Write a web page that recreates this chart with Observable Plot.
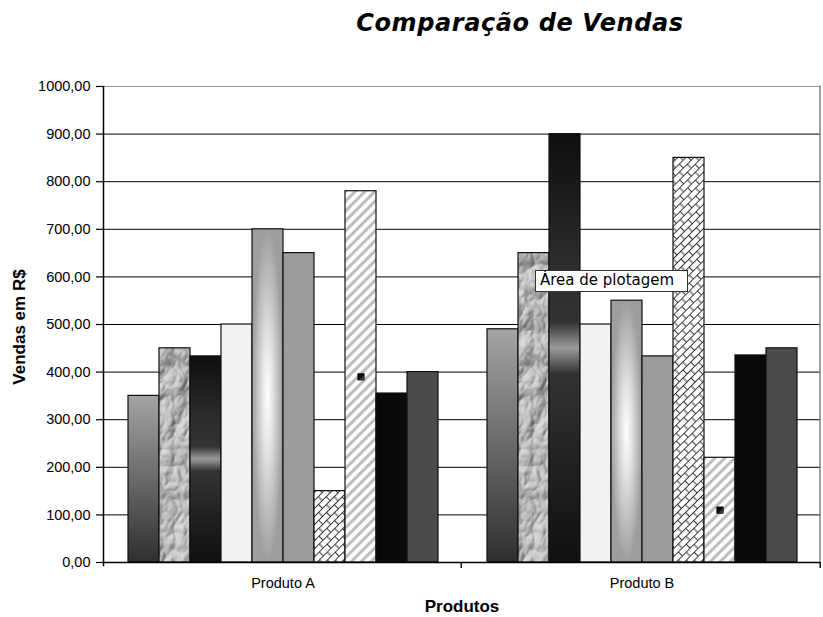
<!DOCTYPE html>
<html><head><meta charset="utf-8">
<script src="https://cdn.jsdelivr.net/npm/d3@7"></script>
<script src="https://cdn.jsdelivr.net/npm/@observablehq/plot@0.6"></script>
<style>
body{margin:0;background:#fff;}
#wrap{position:relative;width:823px;height:617px;overflow:hidden;background:#fff;}
#wrap svg{position:absolute;left:0;top:0;}
.ov{position:absolute;white-space:nowrap;color:#000;}
#title{left:270px;width:500px;top:11px;text-align:center;font:italic bold 24px "DejaVu Sans",sans-serif;line-height:24px;letter-spacing:0.6px;}
#ylab{left:-80px;width:200px;top:317px;height:20px;line-height:20px;text-align:center;font:bold 17px "Liberation Sans",Arial,sans-serif;transform:rotate(-90deg);}
#xlab{left:362px;width:200px;top:597px;line-height:20px;text-align:center;font:bold 17px "Liberation Sans",Arial,sans-serif;}
#tip{left:535px;top:270px;width:147px;height:20px;line-height:22px;padding-left:4px;border:1px solid #333;background:#fff;font:15px "DejaVu Sans",sans-serif;}
</style></head><body>
<div id="wrap">
  <div id="chart"></div>
  <div class="ov" id="title">Comparação de Vendas</div>
  <div class="ov" id="ylab">Vendas em R$</div>
  <div class="ov" id="xlab">Produtos</div>
  <div class="ov" id="tip">Área de plotagem</div>
</div>
<script>
const products = ["Produto A", "Produto B"];
const series = ["Série 1","Série 2","Série 3","Série 4","Série 5","Série 6","Série 7","Série 8","Série 9","Série 10"];
const valuesA = [350, 450, 433, 500, 700, 650, 150, 780, 355, 400];
const valuesB = [490, 650, 900, 500, 550, 433, 850, 220, 435, 450];
const yTicks = [0, 100, 200, 300, 400, 500, 600, 700, 800, 900, 1000];
const fills = ["url(#g1)", "url(#tex)", "url(#g3)", "#f2f2f2", "url(#g5)", "#9b9b9b", "url(#brick)", "url(#stripes)", "#0a0a0a", "#4b4b4b"];
const markedSeries = "Série 8";

const data = products.flatMap((p, i) => series.map((s, j) => ({product: p, series: s, value: (i ? valuesB : valuesA)[j]})));
const fmt = d => d3.format(".2f")(d).replace(".", ",");

const chart = Plot.plot({
  width: 823, height: 617,
  marginTop: 86, marginBottom: 55, marginLeft: 103, marginRight: 2,
  style: {fontFamily: "'Liberation Sans', Arial, sans-serif", fontSize: "14.5px", background: "transparent", color: "#000", overflow: "visible"},
  fx: {domain: products, padding: 0, label: null},
  x: {domain: series, paddingInner: 0, paddingOuter: 0.77, axis: null},
  y: {domain: [0, 1000], label: null},
  color: {type: "ordinal", domain: series, range: fills},
  marks: [
    Plot.ruleY(yTicks.filter(d => d > 0 && d < 1000), {stroke: "#000", strokeWidth: 1}),
    Plot.ruleY([1000], {stroke: "#999", strokeWidth: 1.2}),
    Plot.barY(data, {fx: "product", x: "series", y: "value", fill: "series", stroke: "#111", strokeWidth: 1.2, inset: 0}),
    Plot.dot(data.filter(d => d.series === markedSeries), {fx: "product", x: "series", y: d => d.value / 2, symbol: "square", r: 3.6, fill: "url(#mk)", stroke: "#000", strokeWidth: 0.8}),
    Plot.ruleY([0], {stroke: "#000", strokeWidth: 1.5}),
    Plot.frame({anchor: "left", stroke: "#000", strokeWidth: 1.5, facetAnchor: "left", insetBottom: -3}),
    Plot.axisY({ticks: yTicks, tickFormat: fmt, tickSize: 7, tickPadding: 6, label: null, strokeWidth: 1.2}),
    Plot.axisFx({anchor: "bottom", tickSize: 0, tickPadding: 15, label: null, fontSize: 14.5})
  ]
});

d3.select(chart).insert("defs", ":first-child").html(`
  <linearGradient id="g1" x1="0" y1="0" x2="0" y2="1">
    <stop offset="0" stop-color="#a4a4a4"/><stop offset="1" stop-color="#2f2f2f"/>
  </linearGradient>
  <linearGradient id="g3" x1="0" y1="0" x2="0" y2="1">
    <stop offset="0" stop-color="#0e0e0e"/><stop offset="0.3" stop-color="#2c2c2c"/>
    <stop offset="0.44" stop-color="#333"/><stop offset="0.5" stop-color="#9a9a9a"/>
    <stop offset="0.56" stop-color="#333"/><stop offset="0.75" stop-color="#232323"/>
    <stop offset="1" stop-color="#101010"/>
  </linearGradient>
  <radialGradient id="g5" cx="0.5" cy="0.5" r="0.5">
    <stop offset="0" stop-color="#ffffff"/><stop offset="0.35" stop-color="#e2e2e2"/>
    <stop offset="1" stop-color="#9e9e9e"/>
  </radialGradient>
  <linearGradient id="mk" x1="0" y1="0" x2="1" y2="1">
    <stop offset="0" stop-color="#000"/><stop offset="0.5" stop-color="#111"/><stop offset="1" stop-color="#777"/>
  </linearGradient>
  <filter id="texf" x="0" y="0" width="1" height="1" color-interpolation-filters="sRGB">
    <feTurbulence type="turbulence" baseFrequency="0.04 0.03" numOctaves="3" seed="7" result="n"/>
    <feDiffuseLighting in="n" surfaceScale="4" diffuseConstant="1" lighting-color="#ffffff" result="l">
      <feDistantLight azimuth="225" elevation="45"/>
    </feDiffuseLighting>
    <feComponentTransfer in="l">
      <feFuncR type="linear" slope="0.55" intercept="0.33"/>
      <feFuncG type="linear" slope="0.55" intercept="0.33"/>
      <feFuncB type="linear" slope="0.55" intercept="0.33"/>
    </feComponentTransfer>
  </filter>
  <pattern id="tex" patternUnits="userSpaceOnUse" x="0" y="0" width="823" height="617">
    <rect width="823" height="617" fill="#aaa" filter="url(#texf)"/>
  </pattern>
  <pattern id="brick" patternUnits="userSpaceOnUse" width="11" height="11.4" patternTransform="rotate(-45)">
    <rect width="11" height="11.4" fill="#fff"/>
    <path d="M0,0.5H11M0,6.2H11M0.5,0.5V6.2M6,6.2V11.4" stroke="#222" stroke-width="0.9" fill="none"/>
  </pattern>
  <pattern id="stripes" patternUnits="userSpaceOnUse" width="7" height="7" patternTransform="rotate(45)">
    <rect width="7" height="7" fill="#fff"/>
    <rect width="3" height="7" fill="#bdbdbd"/>
  </pattern>
`);

// plot-area border (right, gray) and category separator ticks, placed with Plot's own scales
{
  const fx = chart.scale("fx"), y = chart.scale("y");
  const y0 = y.apply(0), y1 = y.apply(1000);
  const edges = fx.domain.map(d => fx.apply(d) + fx.bandwidth);
  const g = d3.select(chart).append("g");
  const right = edges[edges.length - 1] - 1;
  g.append("path").attr("d", `M${right},${y1 - 0.6}V${y0}`)
    .attr("stroke", "#8c8c8c").attr("stroke-width", 1.6).attr("fill", "none");
  g.selectAll("path.sep").data(edges).join("path").attr("class", "sep")
    .attr("d", d => `M${d - 0.8},${y0}V${y0 + 6}`)
    .attr("stroke", "#000").attr("stroke-width", 1.4).attr("fill", "none");
}

document.getElementById("chart").appendChild(chart);
</script>
</body></html>
